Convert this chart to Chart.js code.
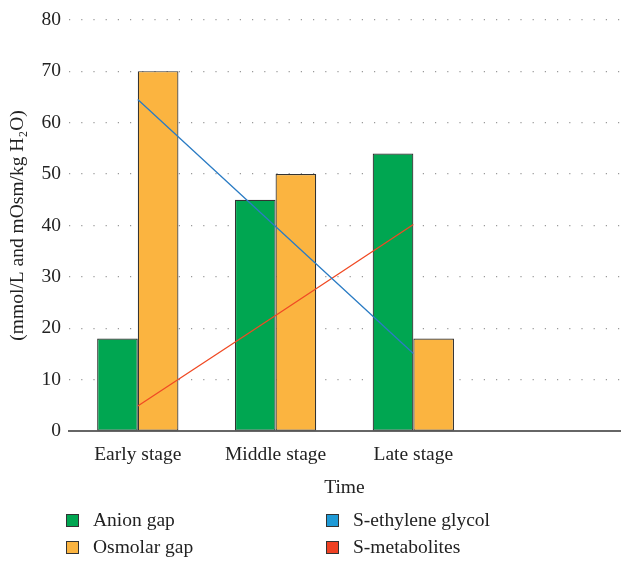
<!DOCTYPE html>
<html>
<head>
<meta charset="utf-8">
<script src="https://cdn.jsdelivr.net/npm/chart.js@4/dist/chart.umd.min.js"></script>
<style>
  body { margin: 0; background: #fff; }
  #wrap { position: relative; width: 621px; height: 510px; }
  #legend { position: absolute; left: 66px; top: 509px; width: 540px;
    display: grid; grid-template-columns: 260px 260px; row-gap: 5px;
    font-family: "Liberation Serif", serif; font-size: 19.5px; color: #222; }
  .item { display: flex; align-items: center; }
  .box { width: 13px; height: 13px; border: 1px solid #333; margin-right: 14px; box-sizing: border-box; }
</style>
</head>
<body>
<div id="wrap"><canvas id="c"></canvas></div>
<div id="legend"></div>
<script>
var categories = ['Early stage', 'Middle stage', 'Late stage', ''];
var anionGap = [18, 45, 54, null];
var osmolarGap = [70, 50, 18, null];
var sEthyleneGlycol = [64.5, 39.8, 15.1, null];
var sMetabolites = [4.9, 22.5, 40.2, null];

var serif = '"Liberation Serif", "DejaVu Serif", serif';

var chart = new Chart(document.getElementById('c').getContext('2d'), {
    data: {
        labels: categories,
        datasets: [
            { type: 'line', label: 'S-ethylene glycol', data: sEthyleneGlycol, borderColor: '#2b7cc4',
              backgroundColor: '#1e9ad6', borderWidth: 1.3, pointRadius: 0, order: 0 },
            { type: 'line', label: 'S-metabolites', data: sMetabolites, borderColor: '#f04a24',
              backgroundColor: '#ef4123', borderWidth: 1.3, pointRadius: 0, order: 0 },
            { type: 'bar', label: 'Anion gap', data: anionGap, backgroundColor: '#00a651',
              borderColor: '#333', borderWidth: 1.2, borderSkipped: false, order: 1 },
            { type: 'bar', label: 'Osmolar gap', data: osmolarGap, backgroundColor: '#fbb440',
              borderColor: '#333', borderWidth: 1.2, borderSkipped: false, order: 1 }
        ]
    },
    options: {
        responsive: true,
        maintainAspectRatio: false,
        animation: false,
        layout: { padding: { top: 12, right: 1, bottom: 6, left: 2 } },
        datasets: { bar: { categoryPercentage: 0.59, barPercentage: 1 } },
        plugins: { legend: { display: false }, tooltip: { enabled: false } },
        scales: {
            x: {
                grid: { display: false },
                border: { display: true, color: '#666', width: 2 },
                ticks: { color: '#222', font: { family: serif, size: 19.5 }, padding: 4 },
                title: { display: true, text: 'Time', color: '#222', font: { family: serif, size: 19.5 }, padding: { top: 6 } }
            },
            y: {
                min: 0, max: 80,
                ticks: { stepSize: 10, color: '#222', font: { family: serif, size: 19.5 }, padding: 8 },
                grid: {
                    drawTicks: false,
                    color: function(c) { return c.tick && c.tick.value === 0 ? 'rgba(0,0,0,0)' : '#999'; },
                    lineWidth: 1.2
                },
                border: { display: false, dash: [1.2, 11] },
                title: { display: true, text: '(mmol/L and mOsm/kg H\u2082O)', color: '#222', font: { family: serif, size: 19.5 }, padding: { bottom: 4 } }
            }
        }
    }
});

// two-column legend like the original
var legend = document.getElementById('legend');
var order = ['Anion gap', 'S-ethylene glycol', 'Osmolar gap', 'S-metabolites'];
order.forEach(function(name) {
    var ds = chart.data.datasets.find(function(d) { return d.label === name; });
    var item = document.createElement('div');
    item.className = 'item';
    item.innerHTML = '<span class="box" style="background:' + ds.backgroundColor + '"></span>' + name;
    legend.appendChild(item);
});
</script>
</body>
</html>
